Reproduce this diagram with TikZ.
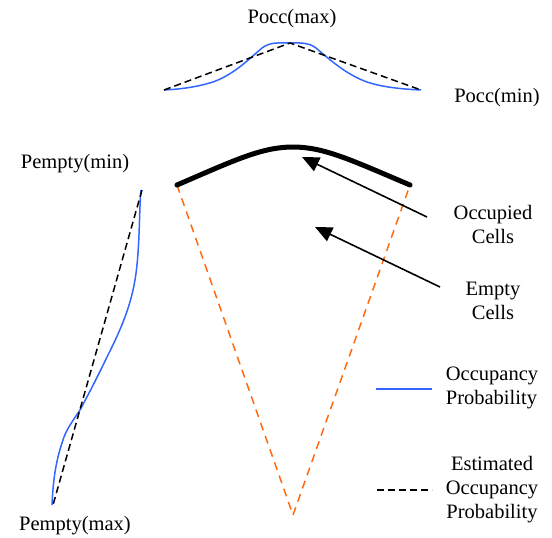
\documentclass[tikz,border=0pt]{standalone}
\usepackage{fontspec}
\setmainfont{Liberation Serif}
\usetikzlibrary{arrows.meta}
\definecolor{probblue}{HTML}{3366FF}
\definecolor{fovorange}{HTML}{FF6A10}
\begin{document}
\begin{tikzpicture}[x=1pt,y=-1pt,
  mylbl/.style={font=\fontsize{20.5}{24}\selectfont, inner sep=0pt, align=center},
  myprob/.style={draw=probblue, line width=1.5pt},
  myest/.style={draw=black, line width=1.5pt, dash pattern=on 7pt off 4pt},
  myfov/.style={draw=fovorange, line width=1.5pt, dash pattern=on 8pt off 6pt},
  mycellarc/.style={draw=black, line width=5pt, line cap=round},
  mypointer/.style={draw=black, line width=1.6pt, -{Triangle[length=17pt,width=15pt]}}]
\useasboundingbox (0,0) rectangle (552,538);
% labels
\node[mylbl] (poccmax) at (292,19) {Pocc(max)};
\node[mylbl] (poccmin) at (497,98) {Pocc(min)};
\node[mylbl] (pemptymin) at (75,164) {Pempty(min)};
\node[mylbl] (pemptymax) at (75,526) {Pempty(max)};
\node[mylbl] (occcells) at (493,224) {Occupied\\Cells};
\node[mylbl] (emptycells) at (493,301) {Empty\\Cells};
\node[mylbl, align=left] (legprob) at (492,388) {Occupancy\\Probability};
\node[mylbl] (legest) at (492,490) {Estimated\\Occupancy\\Probability};
% top curves
\draw[myprob] (164,90) .. controls (185,89) and (200,86) .. (213,82)
  .. controls (235,74) and (250,58) .. (262,48)
  .. controls (270,42) and (278,43) .. (287,43)
  .. controls (300,43) and (308,42) .. (316,48)
  .. controls (328,58) and (345,74) .. (367,82)
  .. controls (382,87) and (400,89) .. (421,90);
\draw[myest] (164,90) -- (290,43) -- (421,90);
% left curves
\draw[myprob] (141,190) .. controls (139,210) and (140,250) .. (135,280)
  .. controls (130,310) and (118,335) .. (107,357)
  .. controls (95,382) and (88,395) .. (80,410)
  .. controls (72,422) and (66,430) .. (63,440)
  .. controls (56,460) and (53,480) .. (52,505);
\draw[myest] (142,190) -- (53,505);
% field of view
\coordinate (fl) at (177,185);
\coordinate (fr) at (410,185);
\coordinate (fb) at (293,515);
\draw[myfov] (fl) -- (fb) -- (fr);
\draw[mycellarc] (fl) .. controls (235,160) and (262,147) .. (293,147)
  .. controls (324,147) and (351,160) .. (fr);
% pointers
\coordinate (a1s) at (427,217);
\coordinate (a1e) at (302,157);
\coordinate (a2s) at (440,287);
\coordinate (a2e) at (315,227);
\draw[mypointer] (a1s) -- (a1e);
\draw[mypointer] (a2s) -- (a2e);
% legend
\coordinate (lb1) at (376,389);
\coordinate (lb2) at (432,389);
\coordinate (le1) at (377,490);
\coordinate (le2) at (432,490);
\draw[myprob] (lb1) -- (lb2);
\draw[myest] (le1) -- (le2);
\end{tikzpicture}
\end{document}
